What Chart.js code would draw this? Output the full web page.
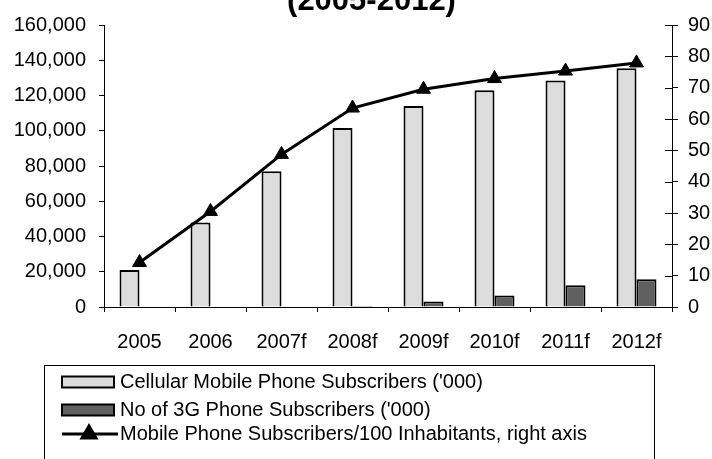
<!DOCTYPE html>
<html>
<head>
<meta charset="utf-8">
<script src="https://cdn.jsdelivr.net/npm/chart.js@4.4.1/dist/chart.umd.min.js"></script>
<style>
  html, body { margin: 0; padding: 0; background: #fff; }
  #wrap { width: 712px; height: 459px; }
</style>
</head>
<body>
<div id="wrap"><canvas id="chart" width="712" height="459"></canvas></div>
<script>
// data
const years = ['2005', '2006', '2007f', '2008f', '2009f', '2010f', '2011f', '2012f'];
const cellularSubs = [21000, 48000, 77000, 101500, 114000, 123000, 128500, 135500];
const subs3G = [null, null, null, 600, 3100, 6500, 12400, 15700];
const subsPer100 = [14.2, 30.5, 48.7, 63.5, 69.5, 72.9, 75.3, 77.9];

const leftMax = 160000, leftStep = 20000;
const rightMax = 90, rightStep = 10;

const titleText = '(2005-2012)';
const FONT = '"Liberation Sans", Arial, sans-serif';

// title, only the lower part shows
const titlePlugin = {
    id: 'cutTitle',
    afterDraw(chart) {
        const ctx = chart.ctx;
        ctx.save();
        ctx.font = 'bold 31px ' + FONT;
        ctx.fillStyle = '#000';
        ctx.textAlign = 'center';
        ctx.textBaseline = 'alphabetic';
        ctx.fillText(titleText, 371.5, 10);
        ctx.restore();
    }
};

// right axis tick marks cross the axis line
const crossTicks = {
    id: 'crossTicks',
    afterDraw(chart) {
        const s = chart.scales.y1;
        const ctx = chart.ctx;
        ctx.save();
        ctx.strokeStyle = '#000';
        ctx.lineWidth = 1;
        s.ticks.forEach(t => {
            const y = Math.round(s.getPixelForValue(t.value)) + 0.5;
            ctx.beginPath();
            ctx.moveTo(s.left - 7, y);
            ctx.lineTo(s.left, y);
            ctx.stroke();
        });
        ctx.restore();
    }
};

// boxed legend below the chart
const legendBox = {
    id: 'legendBox',
    afterDraw(chart) {
        const ctx = chart.ctx;
        ctx.save();
        ctx.strokeStyle = '#000';
        ctx.lineWidth = 1;
        ctx.strokeRect(44.5, 365.5, 610, 120);
        ctx.font = '20px ' + FONT;
        ctx.textBaseline = 'middle';
        ctx.textAlign = 'left';
        const rows = [382, 410, 434];
        chart.data.datasets.forEach((ds, i) => {
            const y = rows[i];
            if (ds.type === 'line') {
                ctx.strokeStyle = ds.borderColor;
                ctx.lineWidth = 3;
                ctx.beginPath();
                ctx.moveTo(62, y);
                ctx.lineTo(118, y);
                ctx.stroke();
                Chart.helpers.drawPoint(ctx, {pointStyle: 'triangle', radius: 8, borderWidth: 1}, 89, y);
                ctx.fillStyle = '#000';
                ctx.fill();
            } else {
                ctx.fillStyle = ds.backgroundColor;
                ctx.fillRect(62, y - 5.5, 52, 11);
                ctx.strokeStyle = '#000';
                ctx.lineWidth = 2;
                ctx.strokeRect(62, y - 5.5, 52, 11);
            }
            ctx.fillStyle = '#000';
            ctx.fillText(ds.label, 120, y);
        });
        ctx.restore();
    }
};

Chart.defaults.font.family = FONT;
Chart.defaults.font.size = 20;
Chart.defaults.color = '#000';

new Chart(document.getElementById('chart'), {
    data: {
        labels: years,
        datasets: [
            {
                type: 'bar',
                label: "Cellular Mobile Phone Subscribers ('000)",
                data: cellularSubs,
                backgroundColor: '#dcdcdc',
                borderColor: '#000',
                borderWidth: 2,
                yAxisID: 'y',
                order: 1
            },
            {
                type: 'bar',
                label: "No of 3G Phone Subscribers ('000)",
                data: subs3G,
                backgroundColor: '#606060',
                borderColor: '#000',
                borderWidth: 2,
                yAxisID: 'y',
                order: 1
            },
            {
                type: 'line',
                label: 'Mobile Phone Subscribers/100 Inhabitants, right axis',
                data: subsPer100,
                borderColor: '#000',
                borderWidth: 3,
                pointStyle: 'triangle',
                pointRadius: 8,
                pointBackgroundColor: '#000',
                pointBorderColor: '#000',
                pointBorderWidth: 1,
                tension: 0,
                yAxisID: 'y1',
                order: 0
            }
        ]
    },
    options: {
        responsive: false,
        animation: false,
        layout: { padding: { top: 21, left: 0, right: 0, bottom: 0 } },
        datasets: {
            bar: { categoryPercentage: 0.563, barPercentage: 1 }
        },
        plugins: {
            legend: { display: false },
            tooltip: { enabled: false },
            title: { display: false }
        },
        scales: {
            x: {
                offset: true,
                grid: { offset: true, drawOnChartArea: false, tickLength: 5, color: '#000' },
                border: { display: true, color: '#000', width: 1 },
                ticks: { padding: 18, maxRotation: 0, autoSkip: false },
                afterFit(scale) { scale.height = 459 - 307; }
            },
            y: {
                position: 'left',
                min: 0,
                max: leftMax,
                grid: { drawOnChartArea: false, tickLength: 5, color: '#000' },
                border: { display: true, color: '#000', width: 1 },
                ticks: {
                    stepSize: leftStep,
                    padding: 13,
                    callback: v => v.toLocaleString('en-US')
                },
                afterFit(scale) { scale.width = 104; }
            },
            y1: {
                position: 'right',
                min: 0,
                max: rightMax,
                grid: { drawOnChartArea: false, tickLength: 6, color: '#000' },
                border: { display: true, color: '#000', width: 1 },
                ticks: { stepSize: rightStep, padding: 10 },
                afterFit(scale) { scale.width = 712 - 672; }
            }
        }
    },
    plugins: [titlePlugin, crossTicks, legendBox]
});
</script>
</body>
</html>
